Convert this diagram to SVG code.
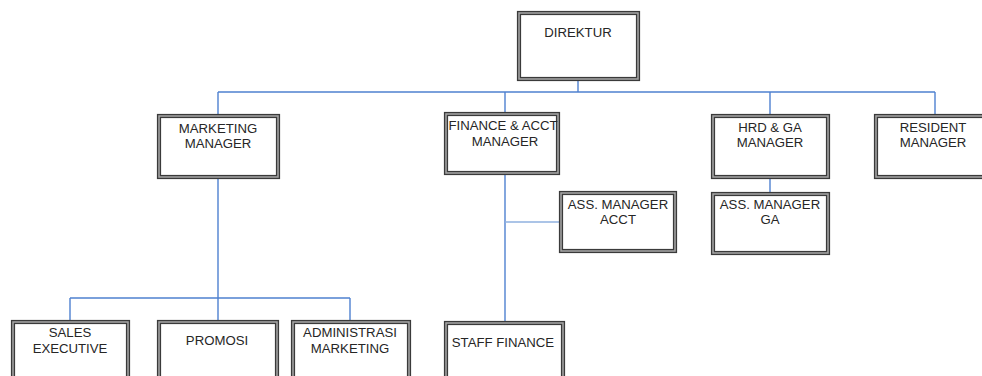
<svg xmlns="http://www.w3.org/2000/svg" width="982" height="376" viewBox="0 0 982 376">
<style>
.o{fill:#fff;stroke:#3a3a3a;stroke-width:4.2}
.i{fill:none;stroke:#a8a8a8;stroke-width:1.5}
text{font-family:"Liberation Sans",Arial,sans-serif;font-size:13.2px;fill:#262626;text-anchor:middle}
.c{fill:none;stroke:#4f81d0;stroke-width:1.4}
.cl{fill:none;stroke:#8fb0df;stroke-width:1.6}
</style>
<rect width="982" height="376" fill="#fff"/>
<g id="connectors">
<path class="c" d="M578 79V92M218 92H935M218 92V115M505 92V113M770 92V115M935 92V115"/>
<path class="c" d="M218 177V321M70 298H350M70 298V321M350 298V321"/>
<path class="c" d="M505 173V322"/>
<path class="cl" d="M505 222H560"/>
<path class="c" d="M770 177V193"/>
</g>
<g id="direktur"><rect class="o" x="519" y="13" width="119" height="66"/><rect class="i" x="519" y="13" width="119" height="66"/><text x="578" y="37">DIREKTUR</text></g>
<g id="marketing-manager"><rect class="o" x="159" y="116" width="119" height="61"/><rect class="i" x="159" y="116" width="119" height="61"/><text x="218" y="133">MARKETING</text><text x="218" y="148">MANAGER</text></g>
<g id="finance-manager"><rect class="o" x="446" y="114" width="112" height="59"/><rect class="i" x="446" y="114" width="112" height="59"/><text x="503" y="130">FINANCE &amp; ACCT</text><text x="505" y="146">MANAGER</text></g>
<g id="hrd-manager"><rect class="o" x="713" y="116" width="115" height="61"/><rect class="i" x="713" y="116" width="115" height="61"/><text x="770" y="132">HRD &amp; GA</text><text x="770" y="147">MANAGER</text></g>
<g id="resident-manager"><rect class="o" x="876" y="116" width="115" height="61"/><rect class="i" x="876" y="116" width="115" height="61"/><text x="933" y="132">RESIDENT</text><text x="933" y="147">MANAGER</text></g>
<g id="ass-manager-acct"><rect class="o" x="561" y="193" width="114" height="58"/><rect class="i" x="561" y="193" width="114" height="58"/><text x="618" y="209">ASS. MANAGER</text><text x="618" y="224">ACCT</text></g>
<g id="ass-manager-ga"><rect class="o" x="713" y="194" width="115" height="59"/><rect class="i" x="713" y="194" width="115" height="59"/><text x="770" y="209">ASS. MANAGER</text><text x="770" y="224">GA</text></g>
<g id="sales-executive"><rect class="o" x="13" y="322" width="115" height="70"/><rect class="i" x="13" y="322" width="115" height="70"/><text x="70" y="337">SALES</text><text x="70" y="353">EXECUTIVE</text></g>
<g id="promosi"><rect class="o" x="159" y="322" width="118" height="70"/><rect class="i" x="159" y="322" width="118" height="70"/><text x="217" y="345">PROMOSI</text></g>
<g id="administrasi-marketing"><rect class="o" x="293" y="322" width="116" height="70"/><rect class="i" x="293" y="322" width="116" height="70"/><text x="350" y="337">ADMINISTRASI</text><text x="350" y="353">MARKETING</text></g>
<g id="staff-finance"><rect class="o" x="446" y="323" width="117" height="70"/><rect class="i" x="446" y="323" width="117" height="70"/><text x="503" y="347">STAFF FINANCE</text></g>
</svg>
